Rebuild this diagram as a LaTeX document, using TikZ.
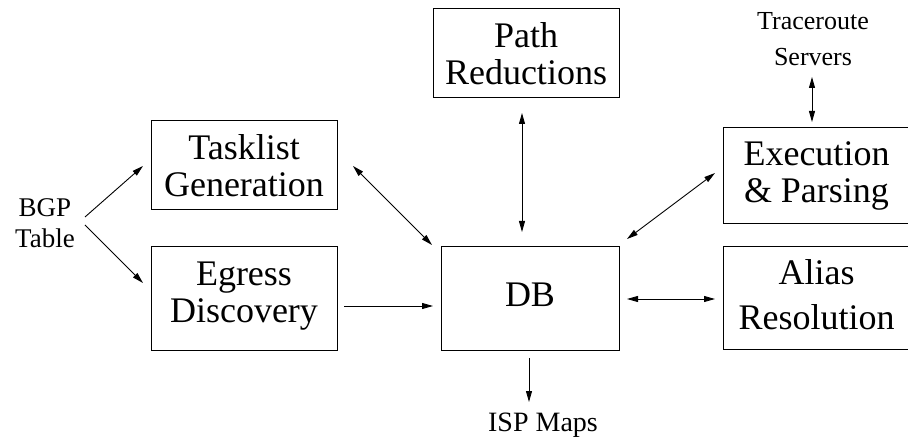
\documentclass[tikz,border=0pt]{standalone}
\usepackage{fontspec}
\setmainfont{Liberation Serif}
\usetikzlibrary{calc,arrows.meta}
\tikzset{
  box/.style={draw, line width=1pt, inner sep=0pt, align=center,
    font=\fontsize{36}{37}\selectfont},
  lbl/.style={inner sep=0pt, align=center, font=\fontsize{27}{31}\selectfont},
  conn/.style={line width=0.9pt, -{Triangle[length=11pt,width=6pt]}},
  bconn/.style={line width=0.9pt, {Triangle[length=11pt,width=6pt]}-{Triangle[length=11pt,width=6pt]}}
}
\begin{document}
\begin{tikzpicture}[x=1pt,y=-1pt]
\useasboundingbox (0,0) rectangle (908,438);
% boxes
\node[box, minimum width=186pt, minimum height=89pt] (path) at (526,53.5) {Path\\Reductions};
\node[box, minimum width=186pt, minimum height=89pt] (task) at (244,165.5) {Tasklist\\Generation};
\node[box, minimum width=186pt, minimum height=104pt] (egress) at (244,299) {Egress\\Discovery\\[-23pt]\mbox{}};
\node[box, minimum width=178pt, minimum height=104pt, text height=24pt, text depth=8pt] (db) at (530,299) {DB};
\node[box, minimum width=187pt, minimum height=96pt] (exec) at (816.5,176) {Execution\\\&~Parsing};
\node[box, minimum width=187pt, minimum height=103pt] (alias) at (816.5,298.5) {Alias\\[8pt]Resolution\\[-29pt]\mbox{}};
% labels
\node[lbl] (bgp) at (45,223) {BGP\\Table};
\node[lbl, font=\fontsize{26}{36}\selectfont] (trace) at (813,39) {Traceroute\\Servers};
\node[lbl, font=\fontsize{28}{32}\selectfont] (isp) at (543,425) {ISP Maps};
% connectors
\draw[conn] ($(bgp)+(40,-6)$) -- ($(task)+(-101,0.5)$);
\draw[conn] ($(bgp)+(40,2)$) -- ($(egress)+(-101,-16)$);
\draw[bconn] ($(task)+(109,0.5)$) -- ($(db)+(-98,-54)$);
\draw[conn] ($(egress)+(100,7)$) -- ($(db)+(-97,7)$);
\draw[bconn] ($(path)+(-4,59.5)$) -- ($(db)+(-8,-67)$);
\draw[bconn] ($(exec)+(-101.5,-3)$) -- ($(db)+(97,-60)$);
\draw[bconn] ($(db)+(97,0)$) -- ($(alias)+(-101.5,0.5)$);
\draw[conn] ($(db)+(-1,59)$) -- ($(isp)+(-14,-23)$);
\draw[bconn] ($(trace)+(-1,38)$) -- ($(exec)+(-4.5,-54)$);
\end{tikzpicture}
\end{document}
